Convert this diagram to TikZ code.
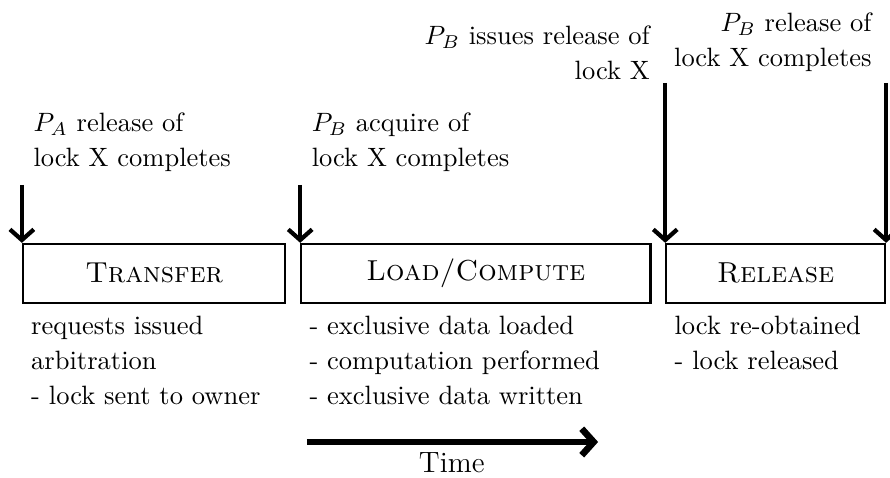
\documentclass[tikz,border=0pt]{standalone}
\usepackage{amsmath}
\usepackage{amssymb}
\usepackage{xcolor}
\usepackage{tikz}
\usetikzlibrary{arrows.meta,shapes.misc}

\begin{document}
\begin{tikzpicture}[>={Straight Barb[length=4pt, width=9pt]}, x=1cm, y=1cm,
    phase/.style={draw, thick, rectangle, anchor=north west, minimum height=0.78cm, font=\fontsize{10.9}{13}\selectfont\scshape},
    event/.style={ultra thick, ->},
    note/.style={align=left, font=\linespread{1.1}\selectfont},
    timeline/.style={line width=2.5pt, -{Straight Barb[length=4.5pt, width=10pt]}}]

                  \useasboundingbox (0,0) rectangle (11.80,-6.33);

                  % phases
                  \draw (0.29,-3.22) node[phase, minimum width=3.48cm] (transfer) {Transfer};
                  \draw (3.98,-3.22) node[phase, minimum width=4.63cm] (load) {Load/Compute};
                  \draw (8.82,-3.22) node[phase, minimum width=2.90cm] (release) {Release};

                  % what happens in each phase
                  \draw ([yshift=-1pt]transfer.south west) node[note, anchor=north west] (transfernote) {requests issued\\arbitration\\- lock sent to owner};
                  \draw ([yshift=-1pt]load.south west) node[note, anchor=north west] (loadnote) {- exclusive data loaded\\- computation performed\\- exclusive data written};
                  \draw ([yshift=-1pt]release.south west) node[note, anchor=north west] (releasenote) {lock re-obtained\\- lock released};

                  % events
                  \coordinate (patop) at (transfer.north west |- 0,-2.45);
                  \coordinate (acqtop) at (load.north west |- 0,-2.45);
                  \coordinate (issuetop) at (release.north west |- 0,-1.10);
                  \coordinate (reltop) at (release.north east |- 0,-1.10);
                  \draw (0.32,-2.40) node[note, anchor=south west] (pa) {$P_A$ release of\\lock X completes};
                  \draw (4.01,-2.40) node[note, anchor=south west] (acq) {$P_B$ acquire of\\lock X completes};
                  \draw (8.74,-1.18) node[note, anchor=south east, align=right] (issue) {$P_B$ issues release of\\lock X};
                  \draw (11.68,-1.07) node[note, anchor=south east, align=right] (rel) {$P_B$ release of\\lock X completes};
                  \draw [event] (patop) -- (transfer.north west);
                  \draw [event] (acqtop) -- (load.north west);
                  \draw [event] (issuetop) -- (release.north west);
                  \draw [event] (reltop) -- (release.north east);

                  % time axis
                  \coordinate (t0) at (4.07,-5.86);
                  \coordinate (t1) at (7.93,-5.86);
                  \draw [timeline] (t0) -- (t1);
                  \draw (5.99,-6.27) node[anchor=base, font=\fontsize{11.1}{13}\selectfont] (timelbl) {Time};

                \end{tikzpicture}
\end{document}
